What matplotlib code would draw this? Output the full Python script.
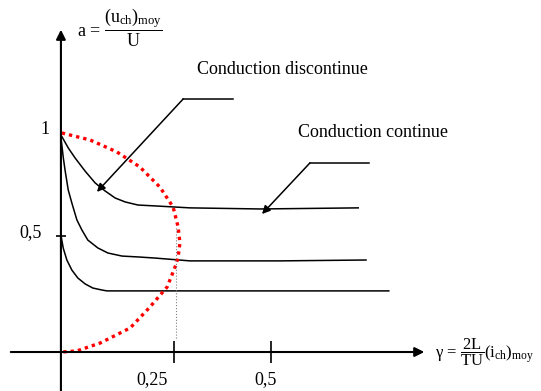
import matplotlib
matplotlib.use('Agg')
import matplotlib.pyplot as plt

# Style: Times-like serif, upright math
plt.rcParams['font.family'] = ['Liberation Serif', 'DejaVu Serif']
plt.rcParams['mathtext.fontset'] = 'custom'
plt.rcParams['mathtext.rm'] = 'Liberation Serif'
plt.rcParams['mathtext.it'] = 'Liberation Serif'
plt.rcParams['mathtext.default'] = 'rm'

# Data (gamma, a)
curve1_g = [0.002, 0.018, 0.033, 0.055, 0.077, 0.099, 0.121, 0.143, 0.171, 0.208,
            0.285, 0.439, 0.654]
curve1_a = [0.991, 0.932, 0.886, 0.826, 0.772, 0.735, 0.703, 0.685, 0.671, 0.667,
            0.658, 0.653, 0.658]

curve2_g = [0.002, 0.007, 0.011, 0.018, 0.026, 0.037, 0.048, 0.061, 0.083, 0.105,
            0.136, 0.171, 0.208, 0.285, 0.482, 0.671]
curve2_a = [0.982, 0.890, 0.831, 0.740, 0.680, 0.603, 0.557, 0.511, 0.475, 0.452,
            0.438, 0.434, 0.429, 0.416, 0.416, 0.420]

curve3_g = [0.002, 0.007, 0.015, 0.026, 0.039, 0.055, 0.072, 0.092, 0.103, 0.721]
curve3_a = [0.534, 0.475, 0.420, 0.374, 0.338, 0.311, 0.292, 0.283, 0.279, 0.279]

# limit between continuous / discontinuous conduction
limit_g = [0.004, 0.066, 0.125, 0.175, 0.219, 0.248, 0.259, 0.263, 0.259, 0.254,
           0.235, 0.197, 0.154, 0.088, 0.037, 0.004]
limit_a = [1.0, 0.968, 0.913, 0.845, 0.753, 0.662, 0.571, 0.498, 0.434, 0.397,
           0.297, 0.205, 0.110, 0.041, 0.005, 0.0]

xtick_pos = [0.25, 0.463]
xtick_labels = ['0,25', '0,5']
ytick_pos = [0.53]


fig = plt.figure(figsize=(5.41, 3.91), dpi=100)
ax = fig.add_axes([0, 0, 1, 1])
ax.set_xlim(-0.1316, 1.0548)
ax.set_ylim(-0.178, 1.607)
ax.axis('off')

# Axes with arrows
ax.annotate('', xy=(0.805, 0), xytext=(-0.114, 0),
            arrowprops=dict(arrowstyle='-|>', color='black', lw=1.5, mutation_scale=14))
ax.annotate('', xy=(0.002, 1.484), xytext=(0.002, -0.2),
            arrowprops=dict(arrowstyle='-|>', color='black', lw=1.5, mutation_scale=14))

# Ticks
ax.plot(xtick_pos, [0] * len(xtick_pos), linestyle='none', marker='|',
        markersize=16, markeredgewidth=1.2, color='black')
ax.plot([0.002] * len(ytick_pos), ytick_pos, linestyle='none', marker='_',
        markersize=7.5, markeredgewidth=1.2, color='black')

# Curves
for g, a in [(curve1_g, curve1_a), (curve2_g, curve2_a), (curve3_g, curve3_a)]:
    ax.plot(g, a, color='black', lw=1.1, solid_joinstyle='round')

# Red boundary
ax.plot(limit_g, limit_a, color='red', lw=2.4, linestyle=(0, (1, 1.2)),
        dash_capstyle='butt')

# Thin dotted guide to 0,25
ax.plot([0.254, 0.254], [0.566, 0.055], color='gray', lw=0.8, linestyle=':')

# Annotations
ax.plot([0.379, 0.270], [1.155, 1.155], color='black', lw=1.1)
ax.annotate('', xy=(0.081, 0.731), xytext=(0.270, 1.155),
            arrowprops=dict(arrowstyle='-|>', color='black', lw=1.1,
                            mutation_scale=12, shrinkA=0, shrinkB=0))
ax.plot([0.678, 0.548], [0.863, 0.863], color='black', lw=1.1)
ax.annotate('', xy=(0.443, 0.630), xytext=(0.548, 0.863),
            arrowprops=dict(arrowstyle='-|>', color='black', lw=1.1,
                            mutation_scale=12, shrinkA=0, shrinkB=0))

ax.text(0.300, 1.288, 'Conduction discontinue', fontsize=13, ha='left', va='center')
ax.text(0.522, 1.0, 'Conduction continue', fontsize=13, ha='left', va='center')

# Tick labels
ax.text(-0.033, 1.014, '1', fontsize=13, ha='center', va='center')
ax.text(-0.064, 0.543, '0,5', fontsize=13, ha='center', va='center')
for pos, lab in zip([0.202, 0.450], xtick_labels):
    ax.text(pos, -0.128, lab, fontsize=13, ha='center', va='center')

# Axis labels
ax.text(0.037, 1.479, r'a = $\dfrac{(\mathrm{u}_{ch})_{moy}}{U}$', fontsize=13,
        ha='left', va='center')
ax.text(0.822, 0.0, r'γ = $\dfrac{2L}{TU}$(i$_{ch}$)$_{moy}$', fontsize=12,
        ha='left', va='center')

fig.savefig('out.png', dpi=100)
